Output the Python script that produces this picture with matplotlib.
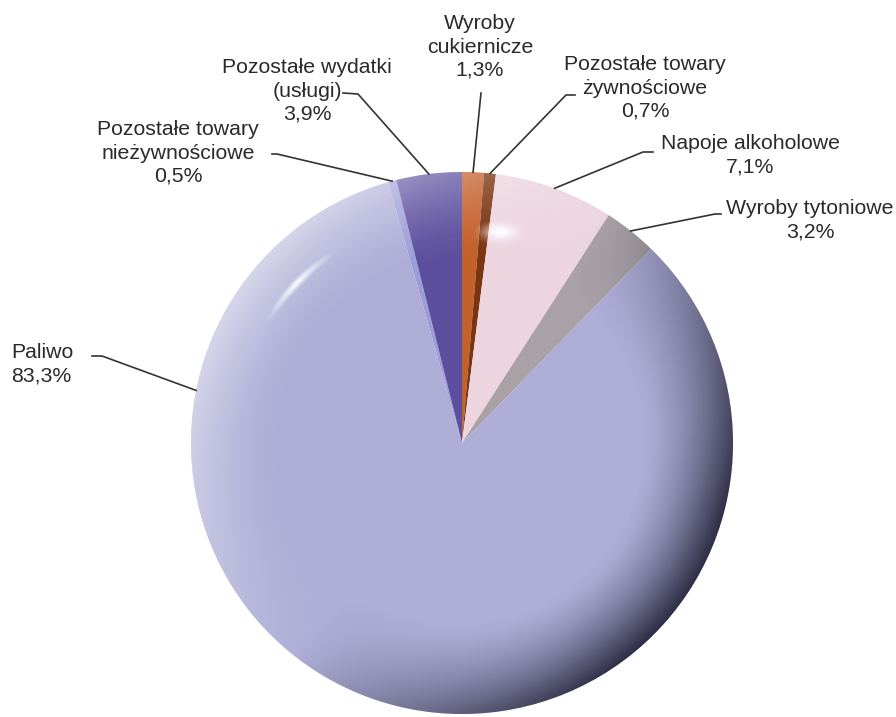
import numpy as np
import matplotlib
matplotlib.use("Agg")
import matplotlib.pyplot as plt
from matplotlib.patches import Circle

plt.rcParams['font.family'] = ['Liberation Sans', 'DejaVu Sans']

# ============ Data ============
labels = ["Wyroby\ncukiernicze\n1,3%",
          "Pozostałe towary\nżywnościowe\n0,7%",
          "Napoje alkoholowe\n7,1%",
          "Wyroby tytoniowe\n3,2%",
          "Paliwo\n83,3%",
          "Pozostałe towary\nnieżywnościowe\n0,5%",
          "Pozostałe wydatki\n(usługi)\n3,9%"]
shares = [1.3, 0.7, 7.1, 3.2, 83.3, 0.5, 3.9]
colors = ["#C4602C", "#7B3510", "#EDD5E0", "#A9A1A6", "#ADADD6", "#9C9CDA", "#5C4F9E"]

# ============ Layout (pixels of the 896x717 canvas) ============
CX, CY, R = 462, 443, 271

def px(x, y):
    return ((x - CX) / R, (CY - y) / R)

# text centre, alignment, leader points from text towards the pie
label_pos = [(480, 47, "center"), (645, 88, "center"), (750, 155, "center"),
             (810, 220, "center"), (11, 364, "left"), (178, 153, "center"),
             (307, 91, "center")]
leaders = [[(481, 93)],
           [(575, 95), (566, 95)],
           [(653, 152), (643, 152)],
           [(721, 214), (715, 214)],
           [(92, 356), (102, 356)],
           [(272, 154), (277, 154)],
           [(343, 93), (358, 94)]]
anchor_frac = [0.5, 0.5, 0.5, 0.5, 0.21, 0.5, 0.5]

fig = plt.figure(figsize=(8.96, 7.17), dpi=100)
ax = fig.add_axes([0, 0, 1, 1])

wedges, _ = ax.pie(shares, colors=colors, startangle=90, counterclock=False,
                   radius=1, center=(0, 0), wedgeprops=dict(linewidth=0))

# ----- shading to mimic the glossy 3D look -----
n = 700
g = np.linspace(-1, 1, n)
X, Y = np.meshgrid(g, g[::-1])
r = np.hypot(X, Y) + 1e-9
d = (X / r) * (-0.82) + (Y / r) * 0.57
rim = np.clip((r - 0.66) / 0.34, 0, 1) ** 1.5
rgba = np.zeros((n, n, 4))
dark = d < 0.05
shade = np.where(dark, np.clip(0.05 - d, 0, 1) / 1.05, d)
rgba[..., :3] = np.where(dark[..., None], np.array([0.12, 0.12, 0.2]), np.array([1.0, 1.0, 1.0]))
alpha = np.where(dark, rim * shade * 0.95, rim * shade * 0.5)
# highlight streak
ang = np.degrees(np.arctan2(Y, X))
win = np.clip(1 - np.abs(ang - 136) / 16, 0, 1)
streak = np.exp(-((r - 0.85) / 0.015) ** 2) * win * 0.95
# small glow
glow = np.exp(-(((X - 0.14) / 0.06) ** 2 + ((Y - 0.78) / 0.03) ** 2)) * 0.95
light = np.maximum(streak, glow)
rgba[..., :3] = rgba[..., :3] * (1 - light[..., None]) + light[..., None]
alpha = np.maximum(alpha, light)
rgba[..., 3] = np.clip(alpha, 0, 1)
im = ax.imshow(rgba, extent=(-1, 1, -1, 1), zorder=3, interpolation="bilinear")
im.set_clip_path(Circle((0, 0), 1, transform=ax.transData))

# ----- labels and leader lines -----
for w, lab, (tx, ty, ha), pts, fr in zip(wedges, labels, label_pos, leaders, anchor_frac):
    a = np.radians(w.theta1 + fr * (w.theta2 - w.theta1))
    xs = [px(*p)[0] for p in pts] + [np.cos(a)]
    ys = [px(*p)[1] for p in pts] + [np.sin(a)]
    ax.plot(xs, ys, color="#333333", lw=1.2, zorder=4)
    x0, y0 = px(tx, ty)
    ax.text(x0, y0, lab, ha=ha, va="center", multialignment=ha,
            fontsize=15.3, color="#2a2a2a", linespacing=1.28)

ax.set_aspect("auto")
ax.set_xlim(-CX / R, (896 - CX) / R)
ax.set_ylim((CY - 717) / R, CY / R)
ax.axis("off")

fig.savefig("out.png", dpi=100, facecolor="white")
